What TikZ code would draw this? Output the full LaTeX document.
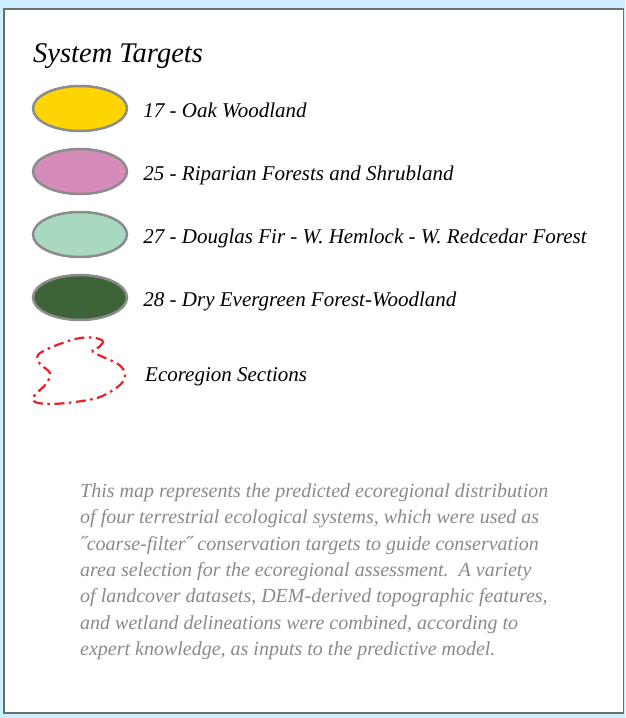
\documentclass[tikz,border=0pt]{standalone}
\usepackage{fontspec}
\setmainfont{Liberation Serif}
\usepackage{xcolor}
\usetikzlibrary{shapes.geometric, positioning}

\definecolor{skyback}{HTML}{CDEFFE}
\definecolor{framegray}{HTML}{6E6E6E}
\definecolor{rimgray}{HTML}{8C8C8C}
\definecolor{oakyellow}{HTML}{FFD500}
\definecolor{riparianpink}{HTML}{D68BBA}
\definecolor{firgreen}{HTML}{A8D8BE}
\definecolor{drygreen}{HTML}{3D6439}
\definecolor{ecored}{HTML}{E8202A}
\definecolor{notegray}{HTML}{8A8A8A}

\begin{document}
\begin{tikzpicture}[
    x=1pt, y=-1pt,
    target/.style={ellipse, draw=rimgray, line width=2.5pt, minimum width=94pt, minimum height=45pt, inner sep=0pt},
    itemtext/.style={font=\fontsize{21}{25}\selectfont\itshape, inner sep=0pt, text height=17pt, text depth=0pt},
    ecoline/.style={draw=ecored, line width=2.2pt, dash pattern=on 10pt off 4.5pt on 2.5pt off 4.5pt}
]

% background and frame
\fill[skyback] (0,0) rectangle (625,718);
\draw[framegray, line width=1.5pt, fill=white] (4,9) rectangle (623.5,713);

\node[font=\fontsize{28.5}{32}\selectfont\itshape, anchor=base west, inner sep=0pt] (title) at (33,62) {System Targets};

\node[target, fill=oakyellow] (oak) at (80,108.5) {};
\node[target, fill=riparianpink] (riparian) at (80,171.5) {};
\node[target, fill=firgreen] (fir) at (80,234.5) {};
\node[target, fill=drygreen] (dry) at (80,297.5) {};

\node[itemtext, right=15pt of oak] (oaktext) {17 - Oak Woodland};
\node[itemtext, right=15pt of riparian] (ripariantext) {25 - Riparian Forests and Shrubland};
\node[itemtext, right=15pt of fir] (firtext) {27 - Douglas Fir - W. Hemlock - W. Redcedar Forest};
\node[itemtext, right=15pt of dry] (drytext) {28 - Dry Evergreen Forest-Woodland};

% ecoregion outline
\draw[ecoline] plot[smooth cycle, tension=0.55] coordinates {(92,337.5) (103,341) (99,347) (93,352) (118,364) (125,374) (120,385) (100,397) (75,402) (50,404) (35,402) (34,396) (46,384) (50,373) (40,364) (38,355) (52,347) (75,339)};
\coordinate (eco) at (80,372.5);
\node[itemtext, right=65pt of eco] (ecotext) {Ecoregion Sections};

\node[font=\fontsize{20}{26.3}\selectfont\itshape, text=notegray, align=left, anchor=north west, inner sep=0pt] (note) at (80,483.5) {This map represents the predicted ecoregional distribution\\of four terrestrial ecological systems, which were used as\\˝coarse-filter˝ conservation targets to guide conservation\\area selection for the ecoregional assessment.\ \ A variety\\of landcover datasets, DEM-derived topographic features,\\and wetland delineations were combined, according to\\expert knowledge, as inputs to the predictive model.};

\end{tikzpicture}
\end{document}
